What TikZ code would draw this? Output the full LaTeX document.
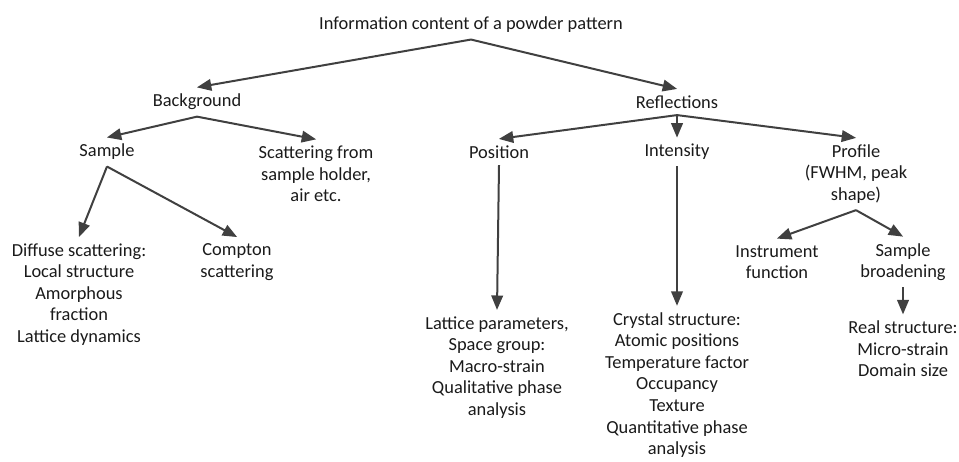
\documentclass[tikz,border=0pt]{standalone}
\usepackage{fontspec}
\setmainfont{Carlito}
\usepackage{tikz}
\usetikzlibrary{arrows,positioning}
\definecolor{arrowgray}{HTML}{404040}
\definecolor{textgray}{HTML}{1A1A1A}

\begin{document}
\begin{tikzpicture}[->,>=triangle 45,x=0.75pt,y=-0.75pt,
    every node/.style={align=center,text=textgray,font=\fontsize{13.8}{16.2}\selectfont,inner sep=0pt,outer sep=5pt},
    link/.style={draw=arrowgray,line width=1.5pt}]

\useasboundingbox (0,0) rectangle (959,461);

\node (Title)     at (471,25)    {Information content of a powder pattern};

\node (Bg)        at (197,102)   {Background};
\node (Refl)      at (677,102)   {Reflections};

\node (Sample)    at (107,152)   {Sample};
\node (Holder)    at (316,174)   {Scattering from\\sample holder,\\air etc.};
\node (Pos)       at (499,152)   {Position};
\node (Int)       at (677,152)   {Intensity};
\node (Prof)      at (856,174)   {Profile\\(FWHM, peak\\shape)};

\node (Diffuse)   at (79,294.5)  {Diffuse scattering:\\Local structure\\Amorphous\\fraction\\Lattice dynamics};
\node (Compton)   at (237,262)   {Compton\\scattering};
\node (Instr)     at (777,262)   {Instrument\\function};
\node (SBroad)    at (903,262)   {Sample\\broadening};

\node (Lattice)   at (497,367.5) {Lattice parameters,\\Space group:\\Macro-strain\\Qualitative phase\\analysis};
\node (Crystal)   at (677,385)   {Crystal structure:\\Atomic positions\\Temperature factor\\Occupancy\\Texture\\Quantitative phase\\analysis};
\node (Real)      at (903,349)   {Real structure:\\Micro-strain\\Domain size};

\path (Title.south) edge[link] (Bg.north)
      (Title.south) edge[link] (Refl.north);

\path (Bg.south) edge[link] (Sample.north)
      (Bg.south) edge[link] (Holder.north)
      (Sample.south) edge[link] (Diffuse.north)
      (Sample.south) edge[link] (Compton.north);

\path (Refl.south) edge[link] (Pos.north)
      (Refl.south) edge[link] (Int.north)
      (Refl.south) edge[link] (Prof.north);

\path (Pos.south) edge[link] (Lattice.north)
      (Int.south) edge[link] (Crystal.north)
      (Prof.south) edge[link] (Instr.north)
      (Prof.south) edge[link] (SBroad.north)
      (SBroad.south) edge[link] (Real.north);
\end{tikzpicture}
\end{document}
